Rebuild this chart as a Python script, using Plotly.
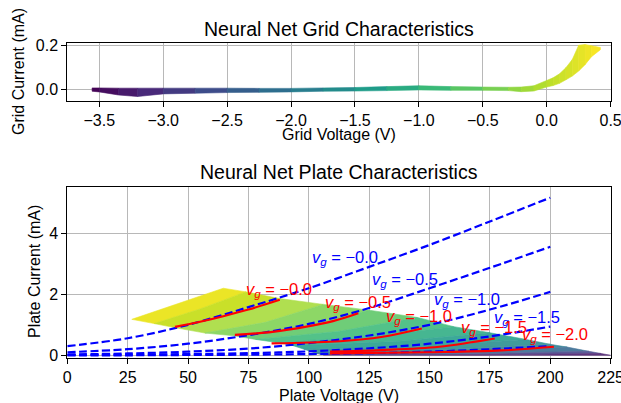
import plotly.graph_objects as go
from plotly.colors import sample_colorscale, unlabel_rgb

# ---------------- data ----------------
# Grid characteristics band (grid voltage V, lower / upper edge of the cloud, mA)
grid_v = [-3.556, -3.5, -3.35, -3.2, -3.0, -2.75, -2.5, -2.25, -2.0, -1.75, -1.5, -1.25,
          -1.0, -0.75, -0.5, -0.3, -0.2, -0.1, 0.0, 0.05, 0.1, 0.15, 0.2, 0.25, 0.3, 0.35, 0.42]
grid_lo = [-0.009, -0.012, -0.026, -0.033, -0.021, -0.018, -0.015, -0.014, -0.012, -0.009, -0.008, -0.006,
           -0.003, -0.005, -0.005, -0.006, -0.011, -0.008, 0.01, 0.017, 0.027, 0.043, 0.06, 0.083, 0.112, 0.148, 0.18]
grid_hi = [0.006, 0.006, 0.005, 0.005, 0.005, 0.005, 0.005, 0.004, 0.004, 0.006, 0.008, 0.012,
           0.016, 0.012, 0.01, 0.009, 0.01, 0.016, 0.04, 0.052, 0.07, 0.098, 0.135, 0.2, 0.203, 0.198, 0.19]

# Plate characteristics cloud: iso grid-voltage lines (start, middle, end) in (Va, Ia)
cloud_vg = [0.42, 0.2, 0.0, -0.25, -0.5, -0.75, -1.0, -1.25, -1.5, -1.75, -2.0, -2.5, -3.0, -3.556]
cloud_va_start = [26.7, 36, 45, 57, 69, 78, 86, 93, 98, 101, 103, 105, 106, 107]
cloud_ia_start = [1.18, 1.04, 0.9, 0.73, 0.64, 0.52, 0.43, 0.33, 0.2, 0.12, 0.06, 0.03, 0.01, 0.0]
cloud_va_mid = [45.6, 55, 65, 82, 99, 112, 124, 136, 148, 158, 164, 168, 170, 170]
cloud_ia_mid = [1.69, 1.52, 1.3, 1.08, 0.95, 0.78, 0.6, 0.45, 0.3, 0.2, 0.12, 0.05, 0.02, 0.0]
cloud_va_end = [64.6, 74, 88, 106, 125, 145, 160, 175, 190, 200, 207, 216, 221, 225]
cloud_ia_end = [2.2, 2.08, 1.86, 1.67, 1.48, 1.24, 0.94, 0.74, 0.52, 0.36, 0.27, 0.13, 0.06, 0.0]
vg_min, vg_max = -3.556, 0.42

# Model curves (blue dashed)
model_va = [0, 25, 50, 75, 100, 125, 150, 175, 200]
model_vg = ["−0.0", "−0.5", "−1.0", "−1.5", "−2.0"]
model_ia = [
    [0.30, 0.56, 1.00, 1.58, 2.20, 2.90, 3.62, 4.39, 5.17],
    [0.10, 0.20, 0.38, 0.66, 1.03, 1.55, 2.20, 2.87, 3.56],
    [0.03, 0.06, 0.12, 0.22, 0.40, 0.65, 1.00, 1.50, 2.08],
    [0.01, 0.02, 0.04, 0.07, 0.13, 0.23, 0.38, 0.62, 0.94],
    [0.00, 0.00, 0.01, 0.02, 0.04, 0.07, 0.12, 0.20, 0.30],
]
model_label_va = [115, 139.8, 165.4, 190.2]
model_label_ia = [3.19, 2.46, 1.81, 1.23]

# Neural net curves (red)
nn_va = [
    [44.6, 55, 65, 75, 88],
    [69.4, 85, 99, 110, 120.5],
    [84.6, 100, 113, 130, 146.8],
    [108.8, 130, 154, 177],
    [108.8, 150, 180, 201.5],
]
nn_ia = [
    [0.93, 1.10, 1.29, 1.50, 1.82],
    [0.67, 0.77, 0.94, 1.12, 1.38],
    [0.39, 0.42, 0.46, 0.60, 0.88],
    [0.12, 0.17, 0.28, 0.55],
    [0.06, 0.10, 0.16, 0.28],
]
nn_label_va = [87.7, 120.5, 145.7, 176.8, 201.9]
nn_label_ia = [2.15, 1.70, 1.24, 0.90, 0.65]

x_ticks_grid = [-3.5, -3.0, -2.5, -2.0, -1.5, -1.0, -0.5, 0.0, 0.5]
y_ticks_grid = [0.0, 0.2]
x_ticks_plate = [0, 25, 50, 75, 100, 125, 150, 175, 200, 225]
y_ticks_plate = [0, 2, 4]

FONT = "Liberation Sans, Arial, sans-serif"


def vcol(v, lighten=0.0):
    t = (v - vg_min) / (vg_max - vg_min)
    t = min(max(t, 0.0), 1.0)
    c = sample_colorscale("Viridis", [t])[0]
    r, g, b = unlabel_rgb(c)
    r = r + (255 - r) * lighten
    g = g + (255 - g) * lighten
    b = b + (255 - b) * lighten
    return "rgb(%d,%d,%d)" % (round(r), round(g), round(b))


fig = go.Figure()

# ---- grid band (top) ----
for i in range(len(grid_v) - 1):
    c = vcol(0.5 * (grid_v[i] + grid_v[i + 1]))
    fig.add_trace(go.Scatter(
        x=[grid_v[i], grid_v[i + 1], grid_v[i + 1], grid_v[i], grid_v[i]],
        y=[grid_lo[i], grid_lo[i + 1], grid_hi[i + 1], grid_hi[i], grid_lo[i]],
        mode="lines", fill="toself", fillcolor=c, line=dict(color=c, width=0.6),
        hoverinfo="skip", showlegend=False, xaxis="x", yaxis="y"))

# ---- plate cloud (bottom) ----
for k in range(len(cloud_vg) - 1):
    vmid = 0.5 * (cloud_vg[k] + cloud_vg[k + 1])
    c = vcol(vmid, 0.0 if vmid > 0 else 0.13)
    xs = [cloud_va_start[k], cloud_va_mid[k], cloud_va_end[k],
          cloud_va_end[k + 1], cloud_va_mid[k + 1], cloud_va_start[k + 1], cloud_va_start[k]]
    ys = [cloud_ia_start[k], cloud_ia_mid[k], cloud_ia_end[k],
          cloud_ia_end[k + 1], cloud_ia_mid[k + 1], cloud_ia_start[k + 1], cloud_ia_start[k]]
    fig.add_trace(go.Scatter(
        x=xs, y=ys, mode="lines", fill="toself", fillcolor=c, line=dict(color=c, width=0.6),
        hoverinfo="skip", showlegend=False, xaxis="x2", yaxis="y2"))

# ---- model curves ----
for ia in model_ia:
    fig.add_trace(go.Scatter(
        x=model_va, y=ia, mode="lines", line=dict(color="#0000ff", width=2.2, dash="8px,3.5px", shape="spline"),
        hoverinfo="skip", showlegend=False, xaxis="x2", yaxis="y2"))

# ---- NN curves ----
for va, ia in zip(nn_va, nn_ia):
    fig.add_trace(go.Scatter(
        x=va, y=ia, mode="lines", line=dict(color="#ff0000", width=2.2, shape="spline"),
        hoverinfo="skip", showlegend=False, xaxis="x2", yaxis="y2"))

annotations = []
for lab, xa, ya in zip(model_vg, model_label_va, model_label_ia):
    annotations.append(dict(x=xa, y=ya, xref="x2", yref="y2", showarrow=False,
                            text="<i>v<sub>g</sub></i> = " + lab,
                            font=dict(family=FONT, size=16.5, color="#0000ff"),
                            xanchor="center", yanchor="middle"))
for lab, xa, ya in zip(model_vg, nn_label_va, nn_label_ia):
    annotations.append(dict(x=xa, y=ya, xref="x2", yref="y2", showarrow=False,
                            text="<i>v<sub>g</sub></i> = " + lab,
                            font=dict(family=FONT, size=16.5, color="#ff0000"),
                            xanchor="center", yanchor="middle"))

W, H = 621, 403
def px(x):
    return x / W
def py(y):
    return 1 - y / H

annotations += [
    dict(text="Neural Net Grid Characteristics", x=px(339), y=py(29), xref="paper", yref="paper",
         showarrow=False, font=dict(family=FONT, size=19.5, color="black"), xanchor="center", yanchor="middle"),
    dict(text="Neural Net Plate Characteristics", x=px(339), y=py(172), xref="paper", yref="paper",
         showarrow=False, font=dict(family=FONT, size=19.5, color="black"), xanchor="center", yanchor="middle"),
    dict(text="Grid Voltage (V)", x=px(339), y=py(134), xref="paper", yref="paper",
         showarrow=False, font=dict(family=FONT, size=16, color="black"), xanchor="center", yanchor="middle"),
    dict(text="Plate Voltage (V)", x=px(339), y=py(395), xref="paper", yref="paper",
         showarrow=False, font=dict(family=FONT, size=16, color="black"), xanchor="center", yanchor="middle"),
    dict(text="Grid Current (mA)", x=px(18), y=py(72), xref="paper", yref="paper", textangle=-90,
         showarrow=False, font=dict(family=FONT, size=16, color="black"), xanchor="center", yanchor="middle"),
    dict(text="Plate Current (mA)", x=px(34), y=py(272), xref="paper", yref="paper", textangle=-90,
         showarrow=False, font=dict(family=FONT, size=16, color="black"), xanchor="center", yanchor="middle"),
]

axis_common = dict(showline=True, linecolor="black", linewidth=1, mirror=True,
                   ticks="outside", ticklen=5, tickwidth=1, tickcolor="black",
                   showgrid=True, gridcolor="#b8b8b8", gridwidth=0.8, zeroline=False,
                   automargin=False, ticklabeloverflow="allow",
                   tickfont=dict(family=FONT, size=16, color="black"))

xdom = [px(67.3), px(610.7)]
fig.update_layout(
    width=W, height=H, margin=dict(l=0, r=0, t=0, b=0, pad=0, autoexpand=False),
    paper_bgcolor="white", plot_bgcolor="white", showlegend=False,
    xaxis=dict(domain=xdom, range=[-3.75, 0.5005], tickvals=x_ticks_grid, tickformat=".1f",
               anchor="y", **axis_common),
    yaxis=dict(domain=[py(100.7), py(43.3)], range=[-0.052, 0.209], tickvals=y_ticks_grid,
               tickformat=".1f", anchor="x", **axis_common),
    xaxis2=dict(domain=xdom, range=[0, 225.02], tickvals=x_ticks_plate, anchor="y2", **axis_common),
    yaxis2=dict(domain=[py(357.8), py(187.3)], range=[-0.082, 5.51], tickvals=y_ticks_plate,
                anchor="x2", **axis_common),
    annotations=annotations,
)

fig.write_html("out.html", config={"displayModeBar": False},
               post_script="document.body.style.margin='0';document.body.style.padding='0';")
